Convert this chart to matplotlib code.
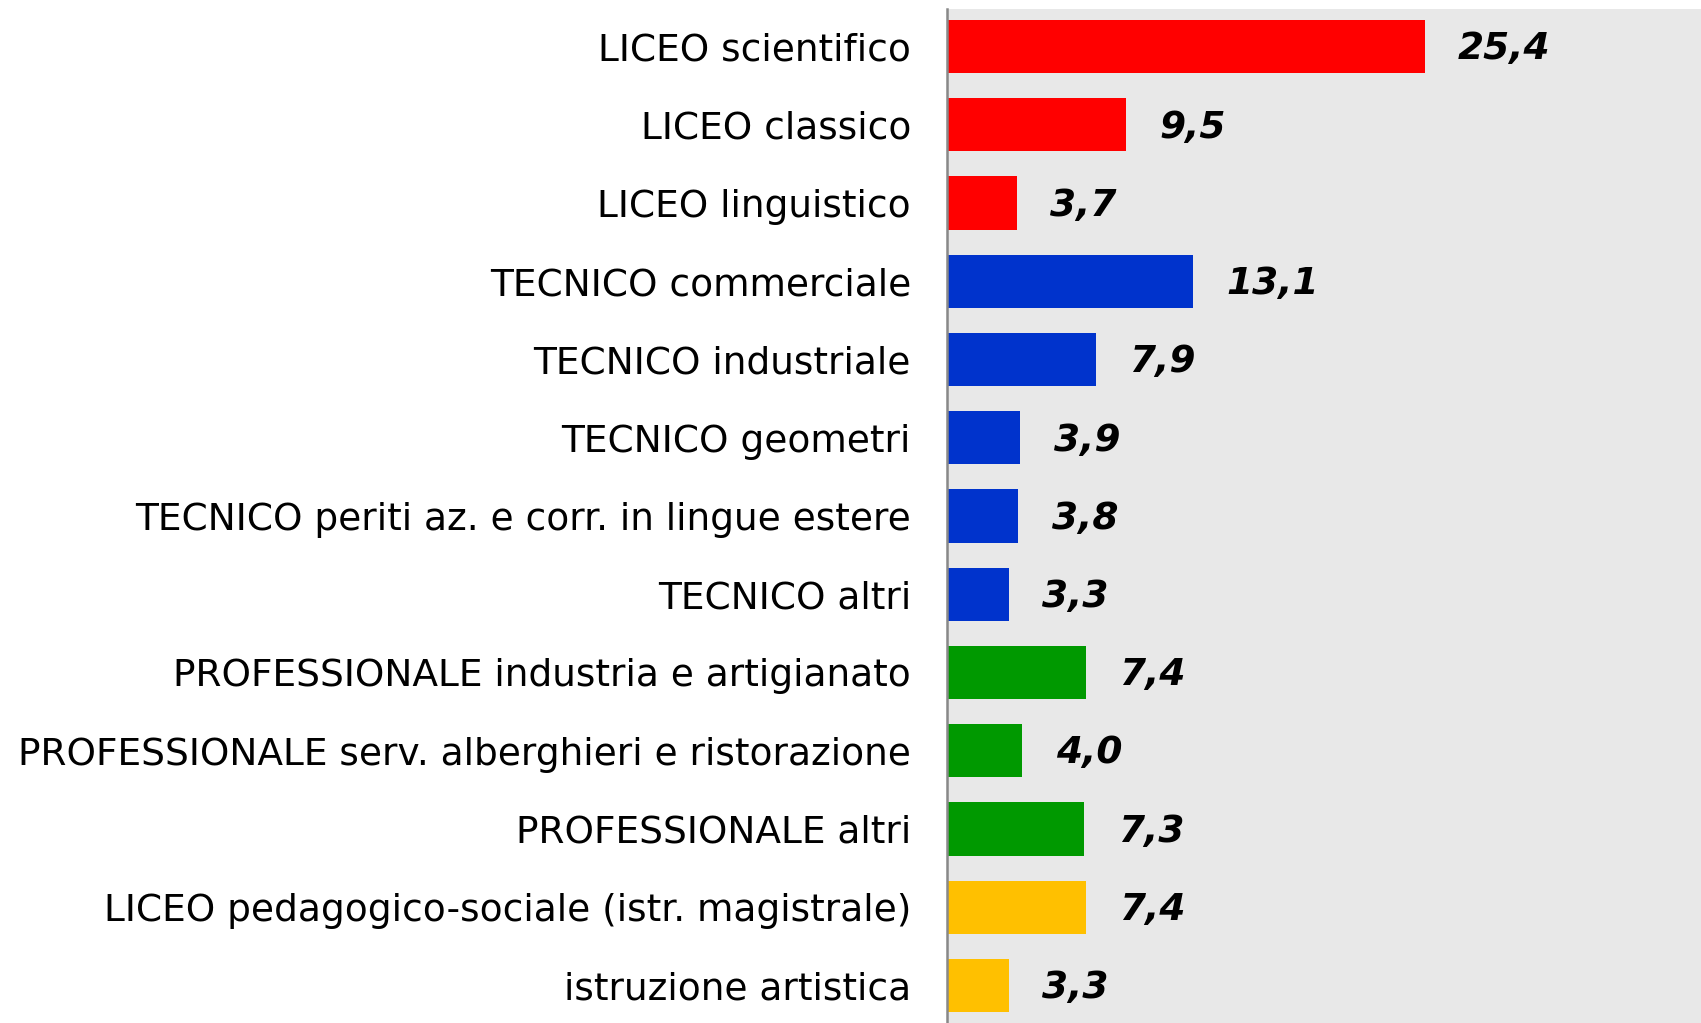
import matplotlib.pyplot as plt

categories = [
    "LICEO scientifico",
    "LICEO classico",
    "LICEO linguistico",
    "TECNICO commerciale",
    "TECNICO industriale",
    "TECNICO geometri",
    "TECNICO periti az. e corr. in lingue estere",
    "TECNICO altri",
    "PROFESSIONALE industria e artigianato",
    "PROFESSIONALE serv. alberghieri e ristorazione",
    "PROFESSIONALE altri",
    "LICEO pedagogico-sociale (istr. magistrale)",
    "istruzione artistica",
]
values = [25.4, 9.5, 3.7, 13.1, 7.9, 3.9, 3.8, 3.3, 7.4, 4.0, 7.3, 7.4, 3.3]
groups = ["liceo"] * 3 + ["tecnico"] * 5 + ["prof"] * 3 + ["altro"] * 2
group_colors = {"liceo": "#ff0000", "tecnico": "#0033cc",
                "prof": "#009900", "altro": "#ffc000"}

fig = plt.figure(figsize=(17.01, 10.23), dpi=100)
ax = fig.add_axes([947 / 1701, 0, 1 - 947 / 1701, 1 - 9 / 1023])
ax.set_facecolor("#e8e8e8")

ypos = list(range(len(categories)))
ax.barh(ypos, values, height=0.68,
        color=[group_colors[g] for g in groups])

for y, v in zip(ypos, values):
    ax.annotate(f"{v:.1f}".replace(".", ","), (v, y),
                xytext=(24, -2), textcoords="offset points",
                ha="left", va="center", fontsize=27,
                fontweight="bold", fontstyle="italic", color="black")

ax.set_xlim(0, 40.1)
ax.set_ylim(len(categories) - 0.52, -0.48)
ax.set_yticks(ypos)
ax.set_yticklabels(categories, fontsize=27)
ax.tick_params(axis="y", length=0, pad=26)
ax.set_xticks([])
for s in ["top", "right", "bottom"]:
    ax.spines[s].set_visible(False)
ax.spines["left"].set_color("#888888")
ax.spines["left"].set_linewidth(1.8)

fig.savefig("out.png", dpi=100)
